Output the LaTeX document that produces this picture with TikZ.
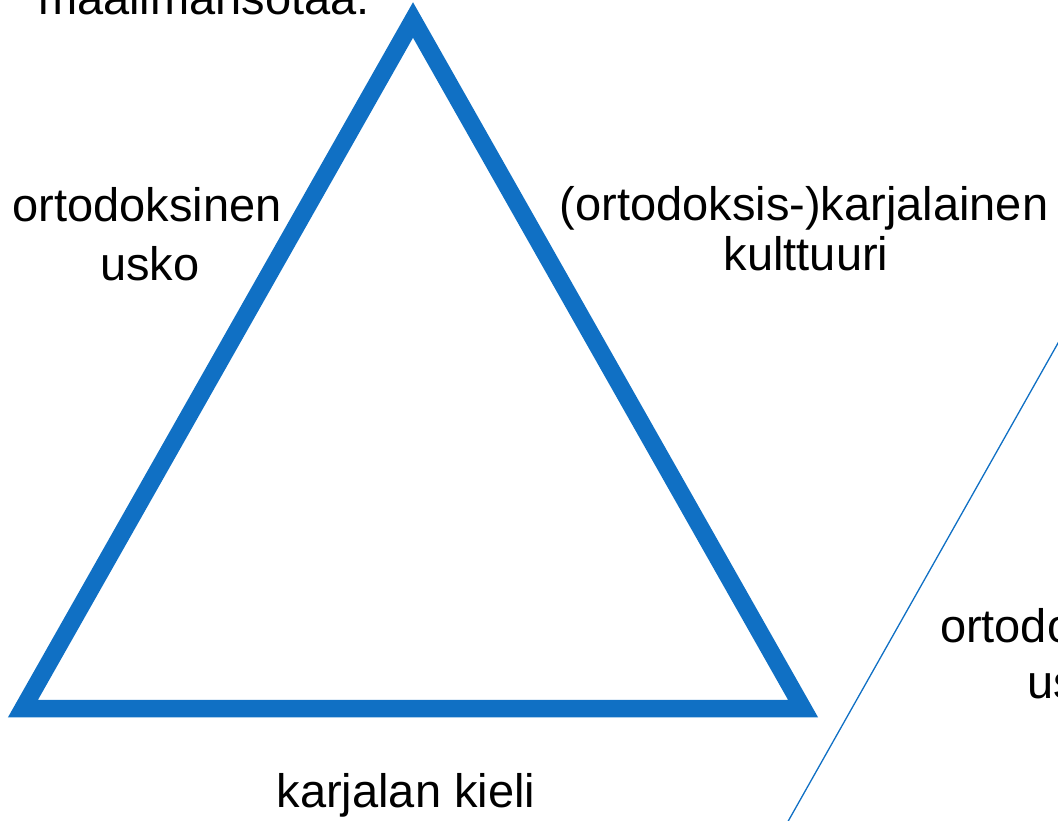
\documentclass[tikz,border=0pt]{standalone}
\usepackage{fontspec}
\setmainfont{Liberation Sans}
\definecolor{triblue}{HTML}{1070C4}
\begin{document}
\begin{tikzpicture}[x=1pt,y=-1pt,
  lbl/.style={inner sep=0pt, outer sep=0pt, font=\fontsize{47}{56}\selectfont, text=black},
  thick edge/.style={draw=triblue, line width=17.5pt, miter limit=10, line join=miter},
  thin edge/.style={draw=triblue, line width=1.3pt}]
\useasboundingbox (0,0) rectangle (1058,821);
\clip (0,0) rectangle (1058,821);
% triangle
\coordinate (apex) at (413,20);
\coordinate (bl) at (23,708.5);
\coordinate (br) at (803,708.5);
\draw[thick edge] (apex) -- (br) -- (bl) -- cycle;
% thin diagonal line
\coordinate (ltop) at (1062,336);
\coordinate (lbot) at (786,825);
\draw[thin edge] (ltop) -- (lbot);
% texts
\node[lbl, anchor=base] (top) at (204,15) {maailmansotaa.};
\node[lbl, anchor=base] (l1) at (147,222) {ortodoksinen};
\node[lbl, anchor=base] (l2) at (150,280) {usko};
\node[lbl, anchor=base] (r1) at (804,221) {(ortodoksis-)karjalainen};
\node[lbl, anchor=base] (r2) at (806,270) {kulttuuri};
\node[lbl, anchor=base] (b1) at (406,807) {karjalan kieli};
\node[lbl, anchor=base west] (o1) at (940,642) {ortodo};
\node[lbl, anchor=base west] (o2) at (1027,698) {us};
\end{tikzpicture}
\end{document}
